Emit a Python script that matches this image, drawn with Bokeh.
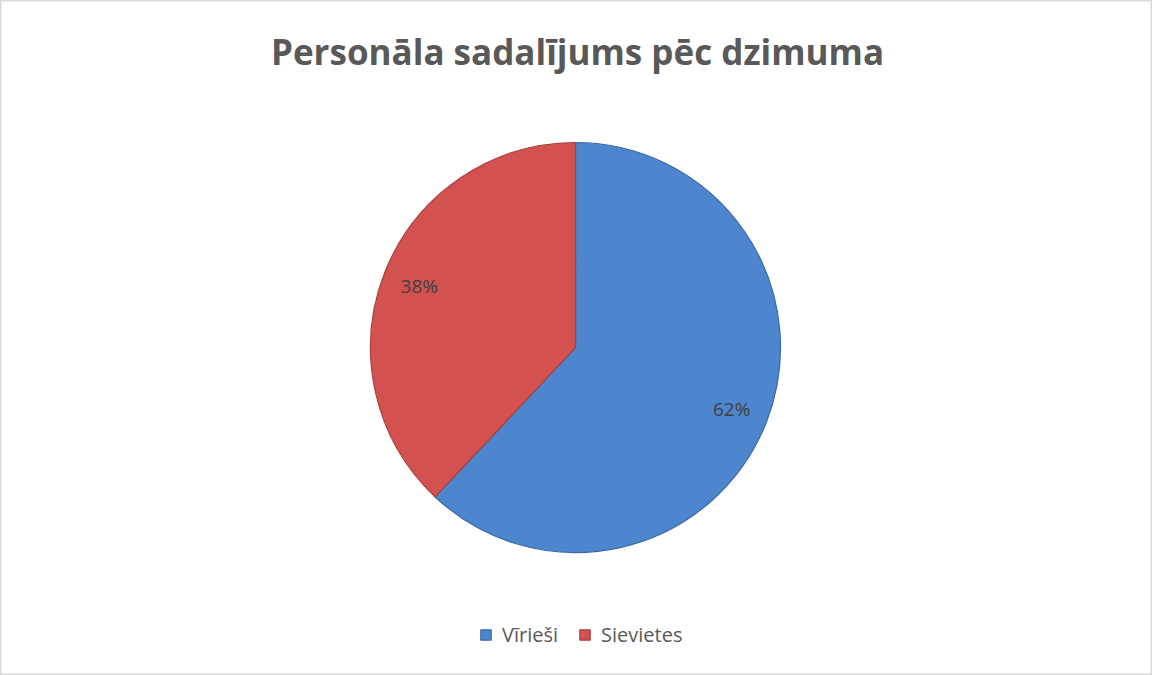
import math
from bokeh.plotting import figure
from bokeh.models import ColumnDataSource, Range1d, Legend, LegendItem
from bokeh.core.properties import value
from bokeh.embed import file_html
from bokeh.resources import INLINE

title_text = "Personāla sadalījums pēc dzimuma"
categories = ["Vīrieši", "Sievietes"]
shares = [62, 38]
colors = ["#4d86cf", "#d3524f"]
edge_colors = ["#3a6aa5", "#a84240"]

W, H = 1152, 675
cx, cy, R = 575, 328, 205

total = sum(shares)
starts, ends = [], []
acc = 0.0
for s in shares:
    a0 = math.pi / 2 - 2 * math.pi * (acc + s) / total
    a1 = math.pi / 2 - 2 * math.pi * acc / total
    starts.append(a0)
    ends.append(a1)
    acc += s
mids = [(a + b) / 2 for a, b in zip(starts, ends)]
d = 168
lx = [cx + d * math.cos(m) for m in mids]
ly = [cy + d * math.sin(m) for m in mids]
labels = [f"{s}%" for s in shares]

src = ColumnDataSource(dict(cat=categories, start=starts, end=ends, color=colors,
                            edge=edge_colors, lx=lx, ly=ly, label=labels))

p = figure(width=W, height=H, output_backend="svg", toolbar_location=None,
           x_range=Range1d(0, W), y_range=Range1d(0, H), min_border=0)
p.axis.visible = False
p.grid.visible = False
p.outline_line_color = "#d9d9d9"
p.outline_line_width = 2
p.background_fill_color = "white"
p.border_fill_color = "white"

wr = p.wedge(x=cx, y=cy, radius=R, start_angle="start", end_angle="end",
             fill_color="color", line_color="edge", line_width=1.2, source=src)

p.text(x="lx", y="ly", text="label", source=src, text_align="center",
       text_baseline="middle", text_font=value("Open Sans"), text_font_size="19px",
       text_color="#404040")

p.text(x=[W / 2 + 1], y=[H - 51], text=[title_text], text_align="center",
       text_baseline="middle", text_font=value("Open Sans"), text_font_size="35px",
       text_font_style="bold", text_color="#595959")

legend = Legend(items=[LegendItem(label=categories[i], renderers=[wr], index=i)
                       for i in range(len(categories))],
                orientation="horizontal", location=(479, 27),
                label_text_font="Open Sans", label_text_font_size="20px",
                label_text_color="#595959", glyph_width=13, glyph_height=13,
                spacing=20, label_standoff=10, background_fill_alpha=0,
                border_line_alpha=0, padding=0, margin=0)
p.add_layout(legend)

open("out.html", "w").write(file_html(p, INLINE))
